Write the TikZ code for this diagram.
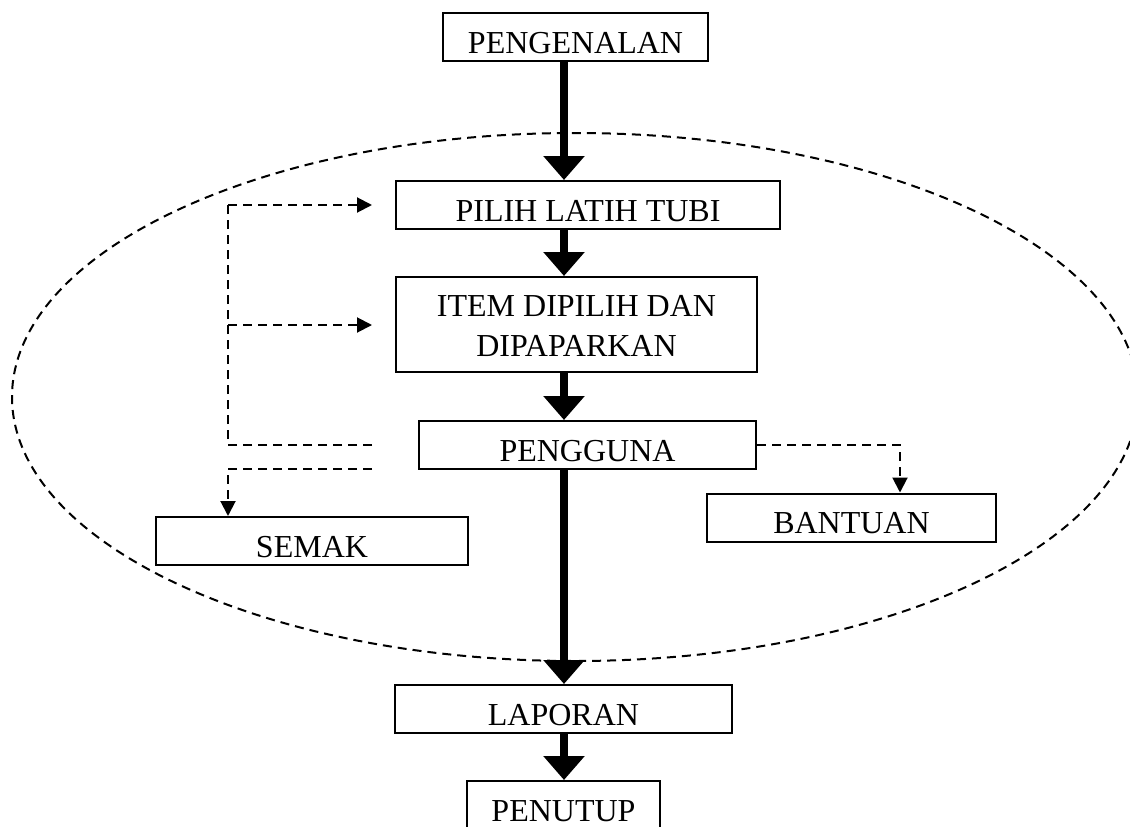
\documentclass[tikz,border=0pt]{standalone}
\usepackage{fontspec}
\setmainfont{Liberation Serif}
\usetikzlibrary{arrows.meta}
\begin{document}
\begin{tikzpicture}[x=1pt,y=-1pt,
  box/.style={draw, line width=2pt, rectangle, minimum height=48pt, inner sep=0pt,
    font=\fontsize{32}{40}\selectfont, text height=32pt, text depth=0pt},
  txt/.style={font=\fontsize{32}{40}\selectfont, inner sep=0pt, anchor=base},
  bigarrow/.style={line width=8pt, -{Triangle[width=40pt,length=24pt]}},
  dashline/.style={line width=2pt, dash pattern=on 9pt off 6pt},
  dasharrow/.style={dashline, -{Triangle[width=15pt,length=15pt]}}]
\useasboundingbox (0,0) rectangle (1130,827);
% dashed ellipse
\draw[dashline] (575,397) ellipse [x radius=563, y radius=264];
% boxes
\node[box, minimum width=265pt] (pen) at (575.5,37) {PENGENALAN};
\node[box, minimum width=384pt] (pil) at (588,205) {PILIH LATIH TUBI};
\node[box, minimum width=361pt, minimum height=95pt] (item) at (576.5,324.5) {};
\node[txt] (item1) at ([yshift=-40pt]item.north) {ITEM DIPILIH DAN};
\node[txt] (item2) at ([yshift=-80pt]item.north) {DIPAPARKAN};
\node[box, minimum width=337pt] (peng) at (587.5,445) {PENGGUNA};
\node[box, minimum width=312pt] (sem) at (312,541) {SEMAK};
\node[box, minimum width=289pt] (ban) at (851.5,517.5) {BANTUAN};
\node[box, minimum width=337pt] (lap) at (563.5,709) {LAPORAN};
\node[box, minimum width=193pt] (pent) at (563.5,805) {PENUTUP};
% main flow
\coordinate (ax) at (564,0);
\draw[bigarrow] (pen.south -| ax) -- (pil.north -| ax);
\draw[bigarrow] (pil.south -| ax) -- (item.north -| ax);
\draw[bigarrow] (item.south -| ax) -- (peng.north -| ax);
\draw[bigarrow] (peng.south -| ax) -- (lap.north -| ax);
\draw[bigarrow] (lap.south -| ax) -- (pent.north -| ax);
% left dashed feedback
\coordinate (ltop) at (228,205);
\coordinate (lmid) at (228,325);
\coordinate (lbot) at (228,445);
\coordinate (e1) at (372,205);
\coordinate (e2) at (372,325);
\coordinate (e3) at (372,445);
\coordinate (e4) at (372,469);
\draw[dashline] (e3) -- (lbot) -- (ltop);
\draw[dasharrow] (ltop) -- (e1);
\draw[dasharrow] (lmid) -- (e2);
\draw[dasharrow] (e4) -| (sem.north -| ltop);
% right dashed to BANTUAN
\coordinate (bx) at (900,0);
\draw[dasharrow] (peng.east) -| (ban.north -| bx);
\end{tikzpicture}
\end{document}
